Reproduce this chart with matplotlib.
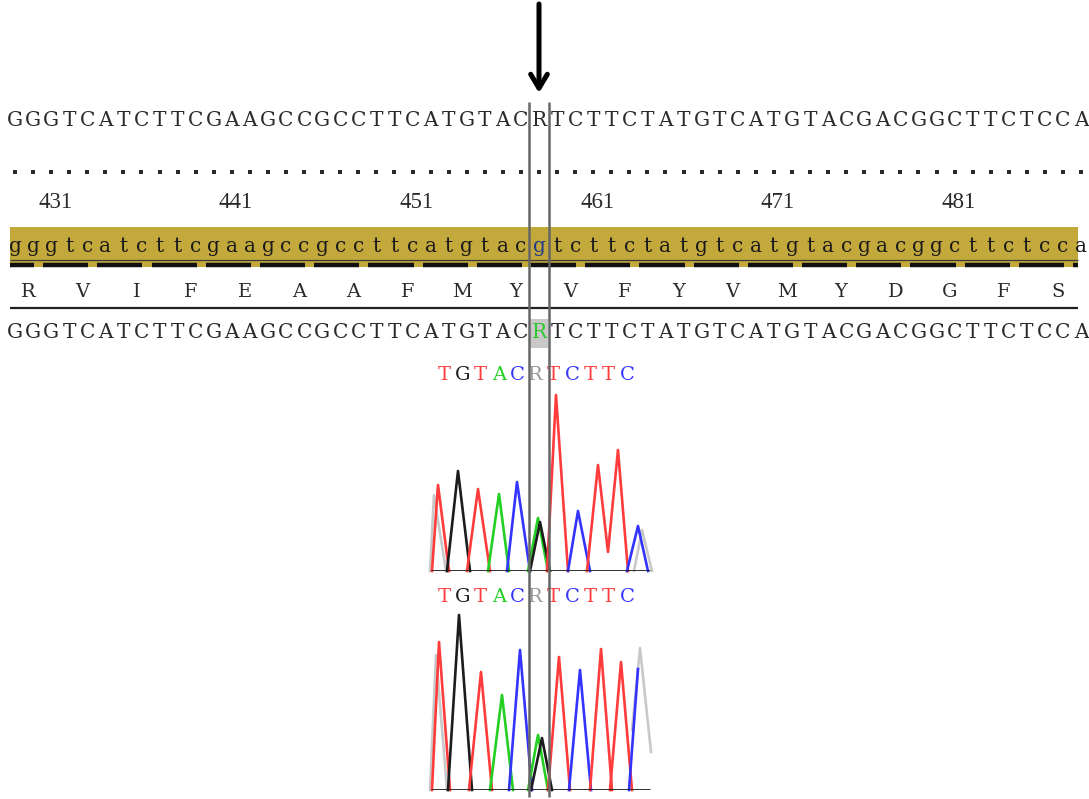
import numpy as np
import matplotlib
matplotlib.use("Agg")
import matplotlib.pyplot as plt
from matplotlib.patches import Rectangle

# ---- sequence data ----
read_seq = "GGGTCATCTTCGAAGCCGCCTTCATGTACRTCTTCTATGTCATGTACGACGGCTTCTCCA"
ref_seq = "gggtcatcttcgaagccgccttcatgtacgtcttctatgtcatgtacgacggcttctcca"
amino_acids = ["R", "V", "I", "F", "E", "A", "A", "F", "M", "Y",
               "V", "F", "Y", "V", "M", "Y", "D", "G", "F", "S"]
ruler_numbers = [431, 441, 451, 461, 471, 481]
first_base_number = 429          # number of the first base shown
variant_index = 29               # the heterozygous R position
call_labels = "TGTACRTCTTC"

# ---- trace data: (base channel, scan positions, signal) ----
trace_upper = [
    ("N", [2, 6, 18], [0, 380, 0]),
    ("T", [4, 10, 21], [0, 430, 0]),
    ("G", [19, 30, 42], [0, 500, 0]),
    ("T", [39, 50, 62], [0, 410, 0]),
    ("A", [60, 71, 81], [0, 385, 0]),
    ("C", [79, 89, 102], [0, 445, 0]),
    ("A", [100, 110, 120], [0, 265, 0]),
    ("G", [102, 112, 122], [0, 245, 0]),
    ("T", [119, 128, 140], [0, 880, 0]),
    ("C", [140, 150, 162], [0, 300, 0]),
    ("T", [159, 170, 180, 190, 200], [0, 530, 95, 605, 0]),
    ("N", [206, 214, 224], [0, 205, 0]),
    ("C", [199, 210, 220], [0, 225, 0]),
]
trace_lower = [
    ("N", [2, 8, 19], [0, 675, 0]),
    ("T", [4, 11, 22], [0, 740, 0]),
    ("G", [20, 31, 44], [0, 875, 0]),
    ("T", [41, 53, 64], [0, 590, 0]),
    ("A", [62, 74, 85], [0, 475, 0]),
    ("C", [81, 92, 104], [0, 700, 0]),
    ("A", [100, 110, 120], [0, 275, 0]),
    ("G", [103, 114, 124], [0, 260, 0]),
    ("T", [120, 131, 142], [0, 665, 0]),
    ("C", [141, 152, 163], [0, 600, 0]),
    ("T", [162, 173, 184], [0, 705, 0]),
    ("T", [182, 193, 204], [0, 640, 0]),
    ("N", [204, 212, 223], [300, 710, 190]),
    ("C", [201, 210], [0, 605]),
]

channel_colors = {"T": "#ff3b3b", "G": "#1c1c1c", "A": "#22cf22",
                  "C": "#3434ff", "N": "#c9c9c9", "R": "#9a9a9a"}

W, H = 1089, 799
fig = plt.figure(figsize=(W / 100, H / 100), dpi=100)


def px_axes(left, top, width, height):
    return fig.add_axes([left / W, 1 - (top + height) / H, width / W, height / H])


# chromatogram panels (drawn underneath the annotation layer)
for trace, top in ((trace_upper, 371), (trace_lower, 590)):
    cax = px_axes(428, top, 228, 200)
    cax.set_xlim(0, 228)
    cax.set_ylim(0, 1000)
    cax.axis("off")
    cax.patch.set_alpha(0)
    for ch, xs, ys in trace:
        cax.plot(xs, ys, color=channel_colors[ch], lw=1.9,
                 solid_joinstyle="round", clip_on=False)
    cax.hlines(0, 3, 222, color="#1c1c1c", lw=2.0, zorder=5)

ax = fig.add_axes([0, 0, 1, 1])
ax.set_xlim(0, W)
ax.set_ylim(H, 0)
ax.axis("off")
ax.patch.set_alpha(0)

DX = 18.07
X_VAR = 539
n = len(read_seq)
base_x = X_VAR + (np.arange(n) - variant_index) * DX

clip = Rectangle((9.5, 0), 1071.5, H, transform=ax.transData)
SEQ_FONT = dict(family="DejaVu Serif", fontsize=14.5,
                ha="center", va="center", color="#2a2a2a")

# arrow marking the variant
ax.annotate("", xy=(X_VAR, 93), xytext=(X_VAR, 4),
            arrowprops=dict(arrowstyle="->,head_length=1.0,head_width=0.6",
                            lw=3.6, color="black", shrinkA=0, shrinkB=0))

# sample read (top)
for i, ch in enumerate(read_seq):
    t = ax.text(base_x[i], 120, ch, **SEQ_FONT)
    t.set_clip_path(clip)

# match dots
ax.scatter(base_x, np.full(n, 172), marker="s", s=5, color="#2a2a2a", lw=0)

# ruler numbers
for num in ruler_numbers:
    ax.text(base_x[num - first_base_number] + 4, 203, str(num),
            family="Liberation Serif", fontsize=16.5, ha="center", va="center",
            color="#2a2a2a")

# reference band
ax.add_patch(Rectangle((10, 227), 1068, 40, color="#c3a83b", lw=0))
for i, ch in enumerate(ref_seq):
    col = "#1f3a8a" if i == variant_index else "#1a1a1a"
    t = ax.text(base_x[i], 246, ch, **{**SEQ_FONT, "color": col})
    t.set_clip_path(clip)
ax.hlines(259.5, 10, 1078, color="#3a3a3a", lw=0.9)

# codon underlines
for k in range(-1, len(amino_acids) + 1):
    first, last = 3 * k - 1, 3 * k + 1
    x0 = X_VAR + (first - variant_index) * DX - 8
    x1 = X_VAR + (last - variant_index) * DX + 1
    x0, x1 = max(x0, 10), min(x1, 1078)
    if x1 > x0:
        ax.hlines(265, x0, x1, color="#111111", lw=3.2)

# translation
for k, a in enumerate(amino_acids):
    ax.text(base_x[3 * k] + 13, 292, a, **{**SEQ_FONT, "fontsize": 14})

ax.hlines(308, 10, 1078, color="#222222", lw=1.6)

# consensus row with highlighted variant cell
ax.add_patch(Rectangle((X_VAR - 9, 319), 18, 29, color="#c8c8c8", lw=0))
for i, ch in enumerate(read_seq):
    col = "#2ec82e" if i == variant_index else "#2a2a2a"
    t = ax.text(base_x[i], 333, ch, **{**SEQ_FONT, "color": col})
    t.set_clip_path(clip)

# base-call labels above each chromatogram
for y in (375, 597):
    for j, ch in enumerate(call_labels):
        ax.text(444 + j * 18.3, y, ch, family="DejaVu Serif", fontsize=14,
                ha="center", va="center",
                color=channel_colors.get(ch, "#2a2a2a"))

# box around the variant column
ax.vlines([X_VAR - 10, X_VAR + 10], 102, 797, colors="#666666", lw=1.8, zorder=6)

fig.savefig("out.png", dpi=100)
